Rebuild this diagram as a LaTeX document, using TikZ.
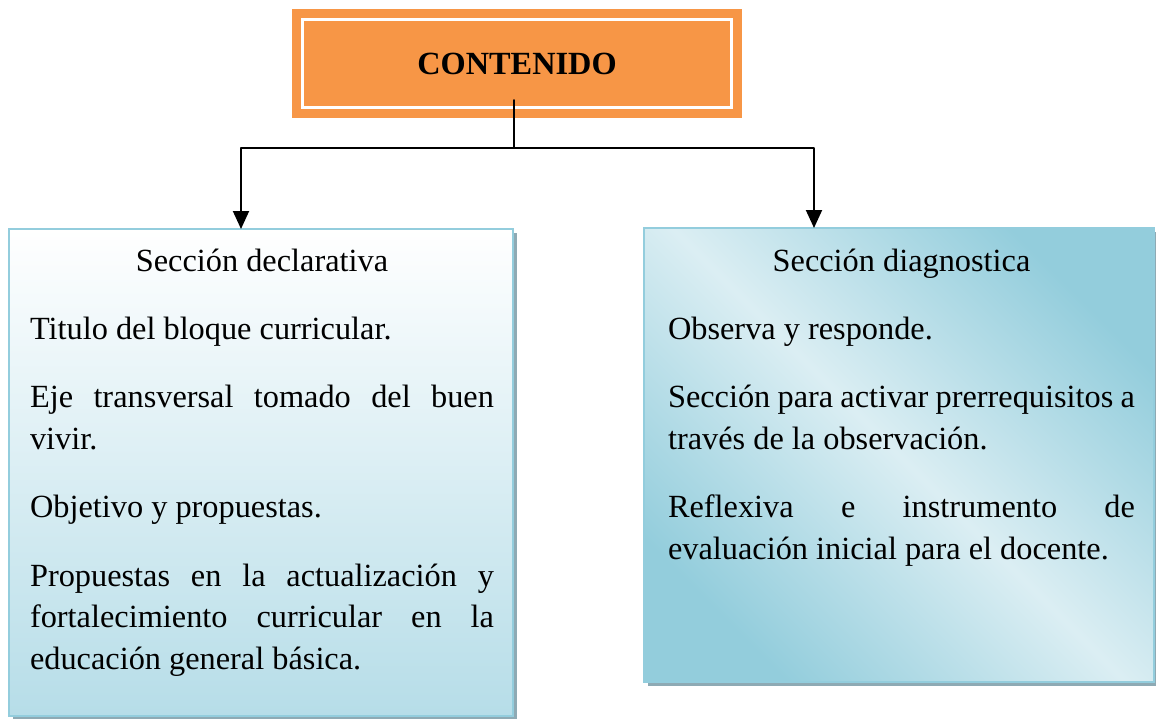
\documentclass[tikz,border=0pt]{standalone}
\usepackage{fontspec}
\setmainfont{Liberation Serif}
\usetikzlibrary{arrows.meta,shadows}
\definecolor{naranja}{HTML}{F79646}
\definecolor{bordeazul}{HTML}{93CDDD}
\definecolor{azulclaro}{HTML}{DBEEF3}
\definecolor{azuloscuro}{HTML}{93CDDC}
\definecolor{azulmedio}{HTML}{B6DDE8}
\definecolor{sombra}{HTML}{8EAAB4}

\begin{document}
\begin{tikzpicture}[line cap=round,line join=round,>={Triangle[width=0.32cm,length=0.36cm]},x=0.02cm,y=-0.02cm]
		\useasboundingbox (0,0) rectangle (1156,719);
		\tikzset{
			titulo/.style={fill=naranja,draw=naranja,line width=0.18cm,double=white,double distance=0.06cm,line join=miter,minimum width=8.58cm,minimum height=1.77cm,font=\fontsize{18.4}{22}\selectfont\bfseries},
			caja/.style={draw=bordeazul,line width=0.04cm,line join=miter,drop shadow={shadow xshift=0.08cm,shadow yshift=-0.08cm,fill=sombra,opacity=1}},
			texto/.style={align=justify,inner sep=0pt,font=\fontsize{18.4}{23.8}\selectfont,execute at begin node={\setlength{\parskip}{15pt}\hyphenpenalty=10000}},
			conector/.style={line width=1.1pt}
		}
		% cajas
		\node[titulo] (contenido) at (517,63.5) {CONTENIDO};
		\node[caja,minimum width=10.08cm,minimum height=9.74cm,top color=white,bottom color=azulmedio] (declarativa) at (261,472.5) {};
		\node[caja,minimum width=10.2cm,minimum height=9.08cm,top color=azuloscuro,bottom color=azuloscuro,middle color=azulclaro,shading angle=-45] (diagnostica) at (899,455) {};
		% textos
		\node[texto,text width=9.28cm,anchor=north] (textoA) at (262,242) {{\centering\strut Sección declarativa\par}
			Titulo del bloque curricular.\par
			Eje transversal tomado del buen\linebreak vivir.\par
			Objetivo y propuestas.\par
			Propuestas en la actualización y\linebreak fortalecimiento curricular en la\linebreak educación general básica.};
		\node[texto,text width=9.34cm,anchor=north] (textoB) at (901.5,242) {{\centering\strut Sección diagnostica\par}
			Observa y responde.\par
			Sección para activar prerrequisitos a\linebreak través de la observación.\par
			Reflexiva e instrumento de\linebreak evaluación inicial para el docente.};
		% conectores
		\coordinate (tronco) at (514,100);
		\coordinate (cruce) at (514,148);
		\coordinate (llegadaA) at (241,229);
		\coordinate (llegadaB) at (814,228);
		\draw[conector] (tronco) -- (cruce);
		\draw[conector,->] (cruce) -| (llegadaA);
		\draw[conector,->] (cruce) -| (llegadaB);
	\end{tikzpicture}
\end{document}
